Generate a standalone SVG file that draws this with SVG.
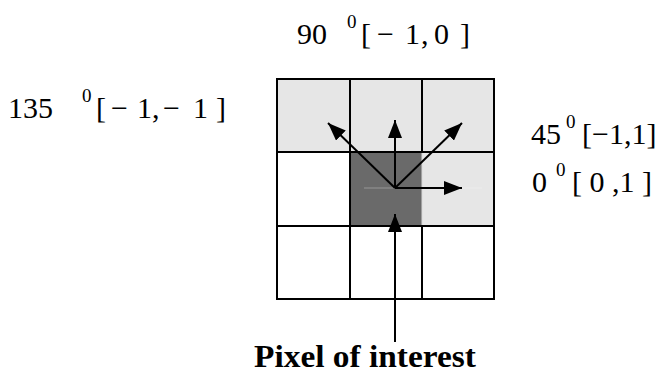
<svg xmlns="http://www.w3.org/2000/svg" width="663" height="375" viewBox="0 0 663 375">
<style>
.lbl{font-family:"Liberation Serif","Times New Roman",serif;font-size:30px;fill:#000}
.sup{font-size:19px}
.bold{font-weight:bold;font-size:31px}
.grid{stroke:#000;stroke-width:2;fill:none}
.arr{stroke:#000;stroke-width:2;fill:none;marker-end:url(#ah)}
</style>
<defs>
<marker id="ah" markerUnits="userSpaceOnUse" markerWidth="18" markerHeight="14" refX="18" refY="7" orient="auto">
<path d="M0,0 L18,7 L0,14 z" fill="#000"/>
</marker>
</defs>
<rect width="663" height="375" fill="#fff"/>
<g id="grid">
<rect x="277" y="79" width="217" height="73" fill="#e6e6e6"/>
<rect x="422" y="152" width="72" height="74" fill="#e6e6e6"/>
<rect id="pixel-of-interest-cell" x="350" y="152" width="72" height="74" fill="#6a6a6a"/>
<line x1="364" y1="188" x2="482" y2="188" stroke="#fff" stroke-opacity="0.3" stroke-width="1"/>
<line x1="422" y1="152" x2="422" y2="226" stroke="#d8d8d8" stroke-width="1"/>
<rect class="grid" x="277" y="79" width="217" height="220"/>
<line class="grid" x1="277" y1="152" x2="494" y2="152"/>
<line class="grid" x1="277" y1="226" x2="494" y2="226"/>
<line class="grid" x1="350" y1="79" x2="350" y2="299"/>
<line class="grid" x1="422" y1="79" x2="422" y2="152"/>
<line class="grid" x1="422" y1="226" x2="422" y2="299"/>
</g>
<g id="connectors">
<line class="arr" x1="395" y1="188" x2="395" y2="120"/>
<line class="arr" x1="395" y1="188" x2="328" y2="123"/>
<line class="arr" x1="395" y1="188" x2="462" y2="123"/>
<line class="arr" x1="395" y1="188" x2="462" y2="188"/>
<line class="arr" x1="395" y1="342" x2="395" y2="214"/>
</g>
<g id="label-90">
<text class="lbl" x="297" y="44">90<tspan class="sup" x="347" y="28">0</tspan><tspan x="361" y="44">[</tspan><tspan x="377">−</tspan><tspan x="405">1</tspan><tspan x="421">,</tspan><tspan x="434">0</tspan><tspan x="460">]</tspan></text>
</g>
<g id="label-135">
<text class="lbl" x="8" y="118">135<tspan class="sup" x="82" y="102">0</tspan><tspan x="96" y="118">[</tspan><tspan x="111">−</tspan><tspan x="137">1</tspan><tspan x="152">,</tspan><tspan x="163">−</tspan><tspan x="193">1</tspan><tspan x="216">]</tspan></text>
</g>
<g id="label-45">
<text class="lbl" x="531" y="144">45<tspan class="sup" x="566" y="128">0</tspan><tspan x="582" y="144">[−1,1]</tspan></text>
</g>
<g id="label-0">
<text class="lbl" x="532" y="192">0<tspan class="sup" x="556" y="176">0</tspan><tspan x="572" y="192">[ 0 ,1 ]</tspan></text>
</g>
<g id="label-pixel">
<text class="lbl bold" x="254" y="367" textLength="222" lengthAdjust="spacingAndGlyphs">Pixel of interest</text>
</g>
</svg>
